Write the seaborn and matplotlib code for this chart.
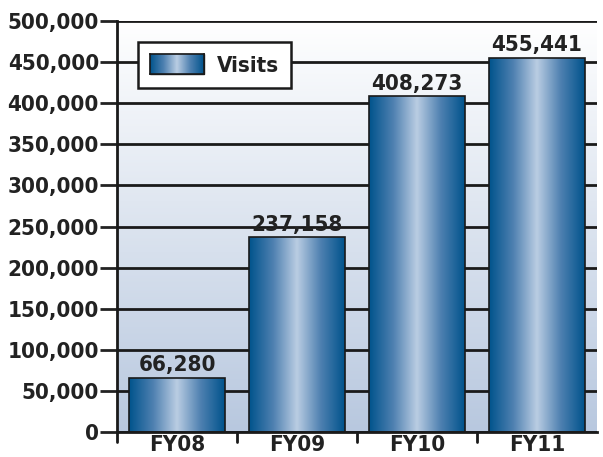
import numpy as np
import pandas as pd
import matplotlib
matplotlib.use("Agg")
import matplotlib.pyplot as plt
import seaborn as sns
from matplotlib.colors import LinearSegmentedColormap
from matplotlib.ticker import FuncFormatter
from matplotlib.patches import Patch

categories = ["FY08", "FY09", "FY10", "FY11"]
visits = [66280, 237158, 408273, 455441]
yticks = [0, 50000, 100000, 150000, 200000, 250000, 300000, 350000, 400000, 450000, 500000]

sns.set_style("white")
plt.rcParams['font.family'] = ['DejaVu Sans']
plt.rcParams['font.stretch'] = 'condensed'
plt.rcParams['font.weight'] = 'bold'

FS = 16
TXT = "#222222"

df = pd.DataFrame({"Year": categories, "Visits": visits})

fig = plt.figure(figsize=(6.03, 4.57), dpi=100)
ax = fig.add_axes([117/603, 1-432/457, (597-117)/603, (432-21)/457])

bar_cmap = LinearSegmentedColormap.from_list(
    "bar", [(0, "#00538c"), (0.25, "#4e80b0"), (0.5, "#bacde3"), (0.75, "#4e80b0"), (1, "#00538c")])
bg_cmap = LinearSegmentedColormap.from_list("bg", ["#ffffff", "#b8c8df"])

sns.barplot(data=df, x="Year", y="Visits", ax=ax, color="#4a7fb0", width=0.8,
            edgecolor="#1a1a1a", linewidth=1.2, label="Visits", zorder=3)

ax.set_ylim(0, 500000)
ax.set_xlim(-0.5, 3.5)

# background gradient (white at top, light blue at bottom)
grad_v = np.linspace(1, 0, 256).reshape(-1, 1)
ax.imshow(grad_v, aspect="auto", cmap=bg_cmap, origin="lower",
          extent=[-0.5, 3.5, 0, 500000], zorder=0)

# bar gradients
grad_h = np.linspace(0, 1, 256).reshape(1, -1)
for p in ax.patches:
    x0, y0 = p.get_x(), p.get_y()
    w, h = p.get_width(), p.get_height()
    im = ax.imshow(grad_h, aspect="auto", cmap=bar_cmap, extent=[x0, x0 + w, y0, y0 + h], zorder=3.5)
    im.set_clip_path(p)
    p.set_facecolor("none")
    p.set_zorder(4)

ax.set_xlim(-0.5, 3.5)
ax.set_ylim(0, 500000)

ax.set_yticks(yticks)
ax.yaxis.set_major_formatter(FuncFormatter(lambda v, _: f"{int(v):,}"))
ax.grid(axis="y", color="#1a1a1a", linewidth=2, zorder=1)
ax.set_axisbelow(True)

for s in ["top", "right"]:
    ax.spines[s].set_visible(False)
for s in ["left", "bottom"]:
    ax.spines[s].set_color("#1a1a1a")
    ax.spines[s].set_linewidth(2)
    ax.spines[s].set_zorder(5)

ax.set_xticks(range(len(categories)))
ax.set_xticklabels(categories)
ax.tick_params(axis="x", length=0, labelsize=FS, pad=2, colors=TXT)
ax.tick_params(axis="y", length=12, width=2, labelsize=FS, pad=1, colors=TXT, left=True)
for t in ax.get_yticklines():
    t.set_color("#1a1a1a")
for x in [-0.5, 0.5, 1.5, 2.5]:
    ax.plot([x, x], [0, -12000], color="#1a1a1a", lw=2, clip_on=False, zorder=5)

ax.set_xlabel("")
ax.set_ylabel("")

for i, v in enumerate(visits):
    ax.text(i, v + 3000, f"{v:,}", ha="center", va="bottom", fontsize=FS, color=TXT, zorder=6)

leg = ax.legend(handles=[Patch(facecolor="#4a7fb0", edgecolor="#1a1a1a", label="Visits")],
                loc="upper left", bbox_to_anchor=(0.044, 0.949), borderaxespad=0,
                fontsize=FS, frameon=True, fancybox=False, framealpha=1, edgecolor="#1a1a1a",
                handlelength=2.4, handleheight=1.0, borderpad=0.55, handletextpad=0.6)
leg.get_frame().set_linewidth(1.8)
leg.set_zorder(10)
for t in leg.get_texts():
    t.set_color(TXT)

fig.canvas.draw()
hp = leg.legend_handles[0]
bb = hp.get_window_extent().transformed(fig.transFigure.inverted())
lax = fig.add_axes([bb.x0, bb.y0, bb.width, bb.height], zorder=20)
lax.imshow(grad_h, aspect="auto", cmap=bar_cmap)
lax.set_xticks([]); lax.set_yticks([])
for s in lax.spines.values():
    s.set_color("#1a1a1a"); s.set_linewidth(1.2)

fig.savefig("out.png", dpi=100)
